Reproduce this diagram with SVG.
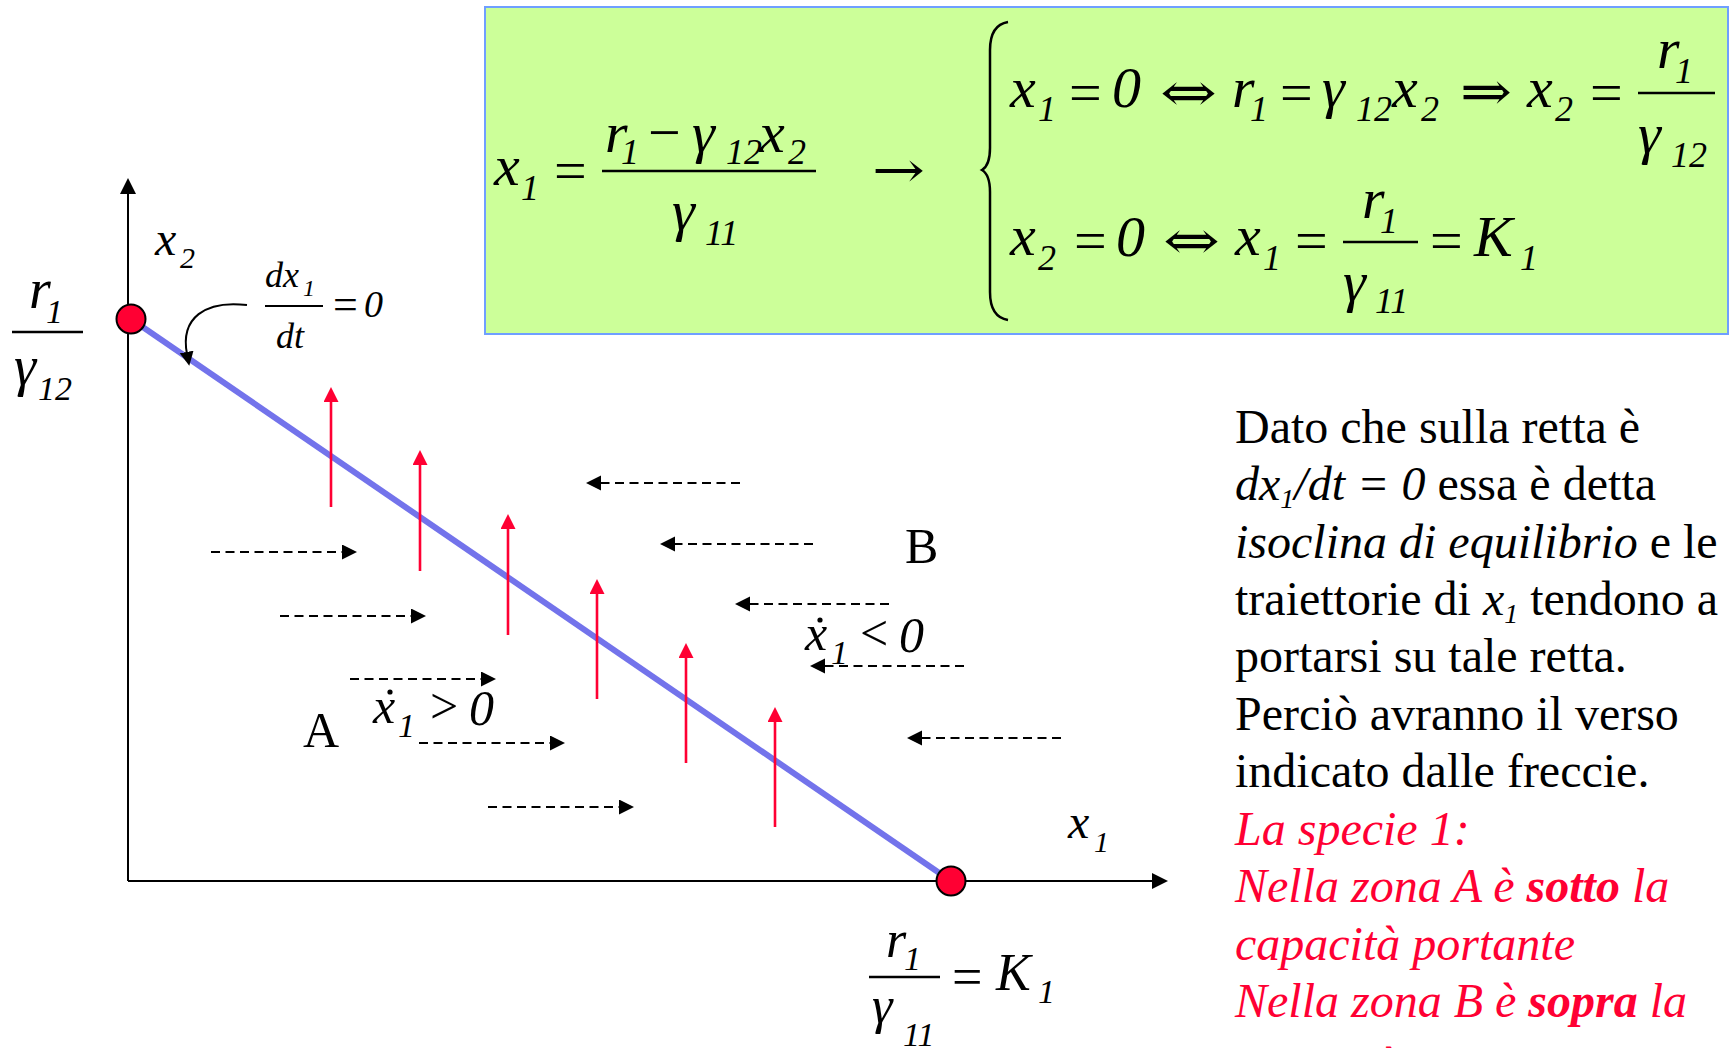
<svg xmlns="http://www.w3.org/2000/svg" width="1731" height="1048" viewBox="0 0 1731 1048">
<defs>
<style>
.m{font-family:"Liberation Serif","Times New Roman",serif;font-style:italic;fill:#000}
.r{font-family:"Liberation Serif","DejaVu Serif",serif;font-style:normal;fill:#000}
.ar{font-family:"DejaVu Serif","DejaVu Sans",serif;font-style:normal;font-weight:normal;fill:#000}
.t{font-family:"Liberation Serif","Times New Roman",serif;font-size:48px;fill:#000}
.red{fill:#FF0033;font-style:italic}
.frac{stroke:#000;stroke-width:2.5}
.dash{stroke:#000;stroke-width:2;stroke-dasharray:9 5.5;fill:none}
.up{stroke:#FF0033;stroke-width:2.6;fill:none}
.axis{stroke:#000;stroke-width:2;fill:none}
</style>
<marker id="ah" markerUnits="userSpaceOnUse" markerWidth="16" markerHeight="16" refX="1" refY="7.5" orient="auto"><path d="M0,0 L15,7.5 L0,15 z" fill="#000"/></marker>
<marker id="ahr" markerUnits="userSpaceOnUse" markerWidth="16" markerHeight="16" refX="1" refY="7.5" orient="auto"><path d="M0,0 L15,7.5 L0,15 z" fill="#FF0033"/></marker>
<marker id="ahx" markerUnits="userSpaceOnUse" markerWidth="18" markerHeight="18" refX="1" refY="8" orient="auto"><path d="M0,0 L16,8 L0,16 z" fill="#000"/></marker>
<marker id="ahc" markerUnits="userSpaceOnUse" markerWidth="16" markerHeight="16" refX="2" refY="7" orient="auto"><path d="M0,0 L14,7 L0,14 z" fill="#000"/></marker>
</defs>
<rect width="1731" height="1048" fill="#fff"/>

<g id="formula-box">
<rect x="485" y="7" width="1243" height="327" fill="#CCFF99" stroke="#6F9FFF" stroke-width="2"/>
<!-- left equation -->
<text class="m" font-size="58"><tspan x="494" y="185">x</tspan><tspan x="521" y="200" font-size="36">1</tspan></text>
<text class="r" font-size="58" x="554" y="190">=</text>
<line class="frac" x1="602" y1="171" x2="816" y2="171"/>
<text class="m" font-size="58"><tspan x="605" y="152">r</tspan><tspan x="621" y="164" font-size="36">1</tspan></text>
<text class="r" font-size="58" x="648" y="152">−</text>
<text class="m" font-size="58"><tspan x="692" y="152">γ</tspan><tspan x="726" y="164" font-size="36">12</tspan><tspan x="759" y="152">x</tspan><tspan x="788" y="164" font-size="36">2</tspan></text>
<text class="m" font-size="58"><tspan x="672" y="230">γ</tspan><tspan x="705" y="245" font-size="36">11</tspan></text>
<text class="ar" font-size="50" x="872" y="187" textLength="53" lengthAdjust="spacingAndGlyphs">→</text>
<!-- brace -->
<path d="M1008,22 C996,24 990,34 990,50 L990,148 C990,161 987,167 982,170 C987,173 990,179 990,192 L990,292 C990,308 996,318 1008,320" fill="none" stroke="#000" stroke-width="2.5"/>
<!-- row 1 -->
<text class="m" font-size="58"><tspan x="1010" y="107">x</tspan><tspan x="1038" y="121" font-size="36">1</tspan></text>
<text class="r" font-size="58" x="1069" y="112">=</text>
<text class="m" font-size="58" x="1112" y="107">0</text>
<text class="ar" font-size="54" x="1160" y="111" textLength="57" lengthAdjust="spacingAndGlyphs">⇔</text>
<text class="m" font-size="58"><tspan x="1232" y="107">r</tspan><tspan x="1250" y="121" font-size="36">1</tspan></text>
<text class="r" font-size="58" x="1280" y="112">=</text>
<text class="m" font-size="58"><tspan x="1322" y="107">γ</tspan><tspan x="1356" y="121" font-size="36">12</tspan><tspan x="1392" y="107">x</tspan><tspan x="1421" y="121" font-size="36">2</tspan></text>
<text class="ar" font-size="54" x="1460" y="110" textLength="52" lengthAdjust="spacingAndGlyphs">⇒</text>
<text class="m" font-size="58"><tspan x="1527" y="107">x</tspan><tspan x="1555" y="121" font-size="36">2</tspan></text>
<text class="r" font-size="58" x="1590" y="112">=</text>
<line class="frac" x1="1638" y1="93" x2="1715" y2="93"/>
<text class="m" font-size="58"><tspan x="1657" y="68">r</tspan><tspan x="1675" y="83" font-size="36">1</tspan></text>
<text class="m" font-size="58"><tspan x="1638" y="153">γ</tspan><tspan x="1671" y="167" font-size="36">12</tspan></text>
<!-- row 2 -->
<text class="m" font-size="58"><tspan x="1010" y="255">x</tspan><tspan x="1038" y="270" font-size="36">2</tspan></text>
<text class="r" font-size="58" x="1074" y="260">=</text>
<text class="m" font-size="58" x="1116" y="256">0</text>
<text class="ar" font-size="54" x="1163" y="259" textLength="57" lengthAdjust="spacingAndGlyphs">⇔</text>
<text class="m" font-size="58"><tspan x="1235" y="255">x</tspan><tspan x="1263" y="270" font-size="36">1</tspan></text>
<text class="r" font-size="58" x="1295" y="260">=</text>
<line class="frac" x1="1343" y1="242" x2="1418" y2="242"/>
<text class="m" font-size="58"><tspan x="1362" y="218">r</tspan><tspan x="1380" y="233" font-size="36">1</tspan></text>
<text class="m" font-size="58"><tspan x="1343" y="301">γ</tspan><tspan x="1375" y="313" font-size="36">11</tspan></text>
<text class="r" font-size="58" x="1430" y="260">=</text>
<text class="m" font-size="58"><tspan x="1474" y="256">K</tspan><tspan x="1520" y="270" font-size="36">1</tspan></text>
</g>

<g id="axes">
<line class="axis" x1="128" y1="881" x2="128" y2="193" marker-end="url(#ahx)"/>
<line class="axis" x1="128" y1="881" x2="1153" y2="881" marker-end="url(#ahx)"/>
</g>

<g id="isocline">
<line x1="131" y1="319" x2="951" y2="881" stroke="#7373EB" stroke-width="6"/>
</g>

<g id="point-r1-g12"><circle cx="131" cy="319" r="14.5" fill="#FF0033" stroke="#000" stroke-width="2"/></g>
<g id="point-K1"><circle cx="951" cy="881" r="14.5" fill="#FF0033" stroke="#000" stroke-width="2"/></g>

<g id="connectors">
<path d="M247,305 C205,300 180,318 187,354" fill="none" stroke="#000" stroke-width="2" marker-end="url(#ahc)"/>
<!-- red vertical arrows -->
<line class="up" x1="331" y1="507" x2="331" y2="401" marker-end="url(#ahr)"/>
<line class="up" x1="420" y1="571" x2="420" y2="464" marker-end="url(#ahr)"/>
<line class="up" x1="508" y1="635" x2="508" y2="528" marker-end="url(#ahr)"/>
<line class="up" x1="597" y1="699" x2="597" y2="593" marker-end="url(#ahr)"/>
<line class="up" x1="686" y1="763" x2="686" y2="657" marker-end="url(#ahr)"/>
<line class="up" x1="775" y1="827" x2="775" y2="721" marker-end="url(#ahr)"/>
<!-- dashed right arrows -->
<line class="dash" x1="211" y1="552" x2="343" y2="552" marker-end="url(#ah)"/>
<line class="dash" x1="280" y1="616" x2="412" y2="616" marker-end="url(#ah)"/>
<line class="dash" x1="350" y1="679" x2="482" y2="679" marker-end="url(#ah)"/>
<line class="dash" x1="419" y1="743" x2="551" y2="743" marker-end="url(#ah)"/>
<line class="dash" x1="488" y1="807" x2="620" y2="807" marker-end="url(#ah)"/>
<!-- dashed left arrows -->
<line class="dash" x1="740" y1="483" x2="600" y2="483" marker-end="url(#ah)"/>
<line class="dash" x1="813" y1="544" x2="674" y2="544" marker-end="url(#ah)"/>
<line class="dash" x1="889" y1="604" x2="749" y2="604" marker-end="url(#ah)"/>
<line class="dash" x1="964" y1="666" x2="824" y2="666" marker-end="url(#ah)"/>
<line class="dash" x1="1061" y1="738" x2="921" y2="738" marker-end="url(#ah)"/>
</g>

<g id="graph-labels">
<text class="m" font-size="48"><tspan x="155" y="255">x</tspan><tspan x="180" y="268" font-size="30">2</tspan></text>
<text class="m" font-size="56"><tspan x="29" y="308">r</tspan><tspan x="46" y="323" font-size="34">1</tspan></text>
<line class="frac" x1="12" y1="332" x2="83" y2="332"/>
<text class="m" font-size="56"><tspan x="14" y="385">γ</tspan><tspan x="38" y="400" font-size="34">12</tspan></text>
<text class="m" font-size="36"><tspan x="265" y="287">dx</tspan><tspan x="303" y="296" font-size="24">1</tspan></text>
<line x1="265" y1="306" x2="323" y2="306" stroke="#000" stroke-width="2"/>
<text class="m" font-size="36" x="276" y="348">dt</text>
<text class="r" font-size="44" x="333" y="319">=</text>
<text class="m" font-size="38" x="364" y="317">0</text>
<text class="t" x="303" y="747" style="font-size:50px">A</text>
<text class="t" x="905" y="563" style="font-size:50px">B</text>
<text class="m" font-size="50"><tspan x="805" y="650">x</tspan><tspan x="831" y="664" font-size="34">1</tspan></text>
<circle cx="820" cy="620" r="2.6" fill="#000"/>
<text class="r" font-size="50" x="860" y="650">&lt;</text>
<text class="m" font-size="50" x="899" y="652">0</text>
<text class="m" font-size="50"><tspan x="373" y="723">x</tspan><tspan x="398" y="737" font-size="34">1</tspan></text>
<circle cx="390" cy="692" r="2.6" fill="#000"/>
<text class="r" font-size="50" x="430" y="723">&gt;</text>
<text class="m" font-size="50" x="469" y="725">0</text>
<text class="m" font-size="48"><tspan x="1068" y="838">x</tspan><tspan x="1094" y="852" font-size="30">1</tspan></text>
<text class="m" font-size="52"><tspan x="886" y="957">r</tspan><tspan x="904" y="970" font-size="34">1</tspan></text>
<line class="frac" x1="869" y1="977" x2="940" y2="977"/>
<text class="m" font-size="52"><tspan x="872" y="1023">γ</tspan><tspan x="903" y="1046" font-size="34">11</tspan></text>
<text class="r" font-size="54" x="952" y="995">=</text>
<text class="m" font-size="52"><tspan x="996" y="990">K</tspan><tspan x="1038" y="1003" font-size="34">1</tspan></text>
</g>

<g id="explanation">
<text class="t" x="1235" y="443">Dato che sulla retta è</text>
<text class="t" x="1235" y="500"><tspan font-style="italic">dx</tspan><tspan font-style="italic" font-size="28" dy="8">1</tspan><tspan font-style="italic" dy="-8">/dt = 0</tspan> essa è detta</text>
<text class="t" x="1235" y="558"><tspan font-style="italic">isoclina di equilibrio</tspan> e le</text>
<text class="t" x="1235" y="615">traiettorie di <tspan font-style="italic">x</tspan><tspan font-style="italic" font-size="28" dy="8">1</tspan><tspan dy="-8"> tendono a</tspan></text>
<text class="t" x="1235" y="672">portarsi su tale retta.</text>
<text class="t" x="1235" y="730">Perciò avranno il verso</text>
<text class="t" x="1235" y="787">indicato dalle freccie.</text>
<text class="t red" x="1235" y="845">La specie 1:</text>
<text class="t red" x="1235" y="902">Nella zona A è <tspan font-weight="bold">sotto</tspan> la</text>
<text class="t red" x="1235" y="960">capacità portante</text>
<text class="t red" x="1235" y="1017">Nella zona B è <tspan font-weight="bold">sopra</tspan> la</text>
<text class="t red" x="1235" y="1081">capacità portante</text>
</g>
</svg>
